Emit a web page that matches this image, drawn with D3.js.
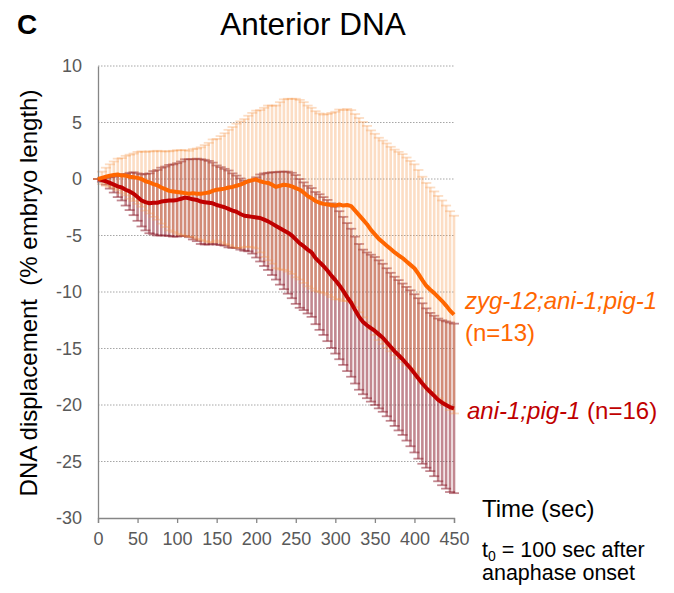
<!DOCTYPE html>
<html lang="en">
<head>
<meta charset="utf-8">
<title>Anterior DNA</title>
<script src="https://d3js.org/d3.v7.min.js"></script>
<style>
  body { margin: 0; background: #fff; }
  svg text { font-family: "Liberation Sans", Arial, sans-serif; }
</style>
</head>
<body>
<div id="chart"></div>
<script>
// time points (sec)
const times = [0,5,10,15,20,25,30,35,40,45,50,55,60,65,70,75,80,85,90,95,
  100,105,110,115,120,125,130,135,140,145,150,155,160,165,170,175,180,185,190,195,
  200,205,210,215,220,225,230,235,240,245,250,255,260,265,270,275,280,285,290,295,
  300,305,310,315,320,325,330,335,340,345,350,355,360,365,370,375,380,385,390,395,
  400,405,410,415,420,425,430,435,440,445,450];

// ani-1;pig-1 (n=16) : mean and error
const redMean = [0,-0.1,-0.2,-0.35,-0.5,-0.65,-0.75,-0.95,-1.1,-1.3,-1.6,-1.9,-2.05,-2.15,-2.1,-2.1,-2.0,-1.95,-1.9,-1.9,
  -1.85,-1.75,-1.65,-1.7,-1.8,-1.85,-2.0,-2.05,-2.1,-2.15,-2.3,-2.4,-2.5,-2.65,-2.8,-2.9,-3.1,-3.25,-3.3,-3.35,
  -3.4,-3.45,-3.6,-3.75,-3.95,-4.15,-4.35,-4.55,-4.75,-5.0,-5.35,-5.7,-5.95,-6.25,-6.5,-7.0,-7.35,-7.7,-8.1,-8.55,
  -8.95,-9.4,-9.9,-10.45,-10.95,-11.6,-12.2,-12.65,-12.95,-13.2,-13.45,-13.75,-14.05,-14.45,-14.85,-15.25,-15.6,-15.95,-16.35,-16.75,
  -17.2,-17.65,-18.1,-18.5,-18.85,-19.2,-19.55,-19.8,-20.0,-20.2,-20.3];
const redErr = [0,0.15,0.3,0.5,0.7,0.95,1.15,1.4,1.65,1.9,2.1,2.3,2.5,2.65,2.8,2.9,3.0,3.05,3.15,3.2,
  3.25,3.3,3.4,3.45,3.55,3.65,3.75,3.75,3.7,3.6,3.5,3.45,3.4,3.4,3.3,3.2,3.15,3.1,3.1,3.25,
  3.55,3.85,4.1,4.3,4.55,4.75,5.0,5.2,5.4,5.55,5.7,5.7,5.65,5.65,5.7,5.85,6.0,6.1,6.25,6.4,
  6.5,6.55,6.55,6.55,6.55,6.5,6.45,6.4,6.45,6.5,6.55,6.55,6.55,6.55,6.55,6.6,6.65,6.7,6.8,6.9,
  7.0,7.1,7.1,7.05,7.0,7.1,7.2,7.3,7.4,7.5,7.5];

// zyg-12;ani-1;pig-1 (n=13) : mean and error
const orangeMean = [0,0.1,0.2,0.3,0.35,0.4,0.3,0.3,0.2,0.15,0.1,0.0,-0.2,-0.3,-0.45,-0.55,-0.75,-0.9,-1.05,-1.1,
  -1.15,-1.2,-1.25,-1.3,-1.25,-1.3,-1.3,-1.25,-1.2,-1.05,-0.95,-0.9,-0.85,-0.75,-0.7,-0.6,-0.5,-0.35,-0.2,-0.1,
  -0.05,-0.2,-0.3,-0.35,-0.5,-0.7,-0.6,-0.5,-0.55,-0.65,-0.8,-0.95,-1.2,-1.5,-1.7,-1.95,-2.1,-2.2,-2.25,-2.3,
  -2.35,-2.25,-2.35,-2.3,-2.4,-2.8,-3.2,-3.6,-4.0,-4.5,-4.9,-5.3,-5.6,-5.9,-6.2,-6.5,-6.75,-7.0,-7.3,-7.6,
  -7.9,-8.4,-8.95,-9.45,-9.8,-10.1,-10.45,-10.8,-11.2,-11.65,-12.0];
const orangeErr = [0,0.55,0.8,1.0,1.2,1.4,1.55,1.75,1.95,2.1,2.3,2.45,2.6,2.75,2.9,3.05,3.2,3.35,3.5,3.6,
  3.7,3.75,3.8,3.8,3.9,4.0,4.1,4.25,4.4,4.55,4.5,4.7,4.9,5.1,5.3,5.5,5.6,5.65,5.8,5.95,
  6.1,6.3,6.6,6.85,7.0,7.2,7.4,7.55,7.65,7.75,7.9,7.95,8.0,8.0,8.0,7.95,7.9,7.9,8.0,8.15,
  8.3,8.4,8.45,8.5,8.5,8.55,8.6,8.65,8.7,8.8,8.9,8.95,9.0,9.05,9.05,9.1,9.15,9.2,9.2,9.2,
  9.2,9.2,9.15,9.1,9.05,9.0,8.95,8.9,8.85,8.8,8.75];

const xTicks = [0,50,100,150,200,250,300,350,400,450];
const yTicks = [10,5,0,-5,-10,-15,-20,-25,-30];

const width = 674, height = 593;
const svg = d3.select("#chart").append("svg")
  .attr("width", width).attr("height", height);

const x = d3.scaleLinear().domain([0, 450]).range([98, 454]);
const y = d3.scaleLinear().domain([-30, 10]).range([518, 66]);

// dotted gridlines
svg.append("g").selectAll("line")
  .data(yTicks.filter(d => d > -30))
  .enter().append("line")
  .attr("x1", x(0)).attr("x2", x(450))
  .attr("y1", d => y(d)).attr("y2", d => y(d))
  .attr("stroke", "#a6a6a6").attr("stroke-width", 1)
  .attr("stroke-dasharray", "1.5,1.5");

function errorBars(mean, err, color, op) {
  const pts = times.map((t, i) => ({t: t, lo: mean[i] - err[i], hi: mean[i] + err[i]}));
  const g = svg.append("g").attr("stroke", color).attr("stroke-opacity", op);
  g.selectAll("line.bar").data(pts).enter().append("line")
    .attr("class", "bar")
    .attr("x1", d => x(d.t)).attr("x2", d => x(d.t))
    .attr("y1", d => y(d.hi)).attr("y2", d => y(d.lo))
    .attr("stroke-width", 2.6);
  // caps top and bottom
  ["hi", "lo"].forEach(k => {
    g.selectAll("line.cap" + k).data(pts).enter().append("line")
      .attr("class", "cap" + k)
      .attr("x1", d => x(d.t) - 5).attr("x2", d => x(d.t) + 5)
      .attr("y1", d => y(d[k])).attr("y2", d => y(d[k]))
      .attr("stroke-width", 1.8);
  });
}

errorBars(redMean, redErr, "#8b1a2a", 0.52);
errorBars(orangeMean, orangeErr, "#f79646", 0.32);

// axes
const yAxis = d3.axisLeft(y).tickValues(yTicks).tickSize(0).tickPadding(16)
  .tickFormat(d => String(d));
const gy = svg.append("g").attr("transform", `translate(${x(0)},0)`).call(yAxis);
const xAxis = d3.axisBottom(x).tickValues(xTicks).tickSize(5).tickPadding(9)
  .tickFormat(d => String(d));
const gx = svg.append("g").attr("transform", `translate(0,${y(-30)})`).call(xAxis);
[gx, gy].forEach(g => {
  g.select(".domain").attr("stroke", "#868686").attr("stroke-width", 1.3);
  g.selectAll(".tick line").attr("stroke", "#868686").attr("stroke-width", 1.3);
  g.selectAll(".tick text").attr("fill", "#595959")
    .style("font-size", "18px").style("font-family", "Liberation Sans, Arial, sans-serif");
});

// mean lines
const line = d3.line().x((d, i) => x(times[i])).y(d => y(d));
svg.append("path").datum(redMean).attr("d", line)
  .attr("fill", "none").attr("stroke", "#c00000").attr("stroke-width", 4)
  .attr("stroke-linejoin", "round");
svg.append("path").datum(orangeMean).attr("d", line)
  .attr("fill", "none").attr("stroke", "#ff6600").attr("stroke-width", 4)
  .attr("stroke-linejoin", "round");

// titles
svg.append("text").attr("x", 17).attr("y", 34)
  .style("font-size", "28px").style("font-weight", "bold").text("C");
svg.append("text").attr("x", 313).attr("y", 35).attr("text-anchor", "middle")
  .style("font-size", "31.5px").text("Anterior DNA");

svg.append("text")
  .attr("transform", "translate(37,293) rotate(-90)")
  .attr("text-anchor", "middle").style("font-size", "24px")
  .text("DNA displacement\u00a0\u00a0(% embryo length)");

// series labels
svg.append("text").attr("x", 465).attr("y", 309).attr("fill", "#ff6600")
  .style("font-size", "24px").style("font-style", "italic").text("zyg-12;ani-1;pig-1");
svg.append("text").attr("x", 465).attr("y", 341).attr("fill", "#ff6600")
  .style("font-size", "24px").text("(n=13)");
const rl = svg.append("text").attr("x", 467).attr("y", 419).attr("fill", "#c00000")
  .style("font-size", "24px");
rl.append("tspan").style("font-style", "italic").text("ani-1;pig-1");
rl.append("tspan").text(" (n=16)");

// x title and note
svg.append("text").attr("x", 482).attr("y", 517)
  .style("font-size", "24px").text("Time (sec)");
const note = svg.append("text").attr("x", 482).attr("y", 557).style("font-size", "21.5px");
note.append("tspan").text("t");
note.append("tspan").attr("baseline-shift", "-25%").style("font-size", "14px").text("0");
note.append("tspan").text(" = 100 sec after");
svg.append("text").attr("x", 482).attr("y", 580).style("font-size", "21.5px")
  .text("anaphase onset");
</script>
</body>
</html>
